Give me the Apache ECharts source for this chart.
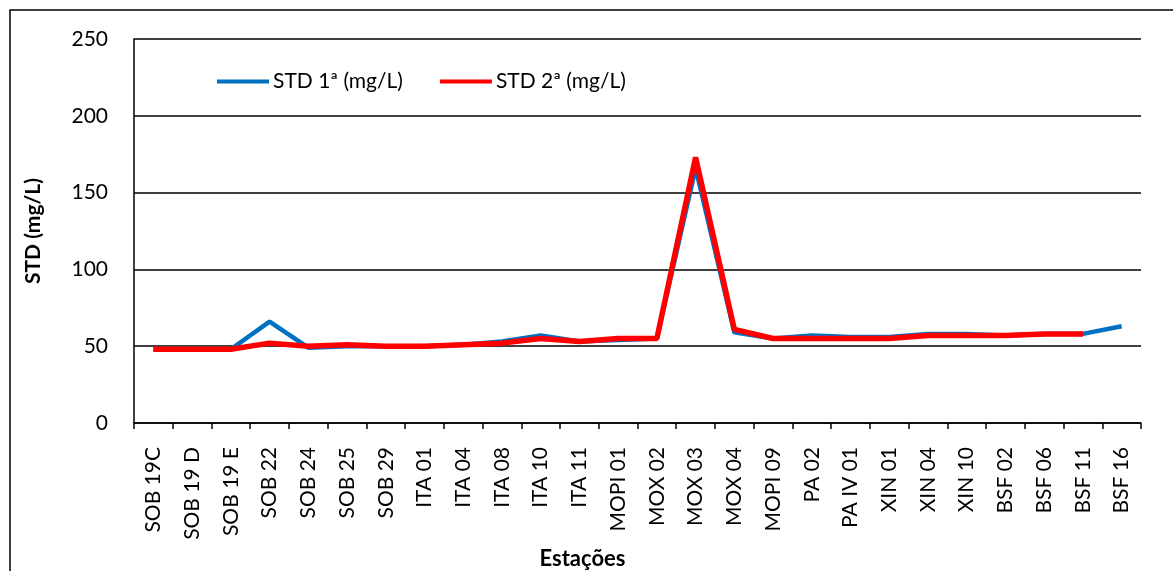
<!DOCTYPE html>
<html>
<head>
<meta charset="utf-8">
<script src="https://cdn.jsdelivr.net/npm/echarts@6/dist/echarts.min.js"></script>
<style>html,body{margin:0;padding:0;background:#fff}#c{width:1173px;height:571px}</style>
</head>
<body>
<div id="c"></div>
<script>
const categories = ['SOB 19C','SOB 19 D','SOB 19 E','SOB 22','SOB 24','SOB 25','SOB 29','ITA 01','ITA 04','ITA 08','ITA 10','ITA 11','MOPI 01','MOX 02','MOX 03','MOX 04','MOPI 09','PA 02','PA IV 01','XIN 01','XIN 04','XIN 10','BSF 02','BSF 06','BSF 11','BSF 16'];
const std1 = [48,48,48,66,49,50,50,50,51,53,57,53,54,55,166,59,55,57,56,56,58,58,57,58,58,63];
const std2 = [48,48,48,52,50,51,50,50,51,52,55,53,55,55,173,61,55,55,55,55,57,57,57,58,58,null];
const yTicks = [0,50,100,150,200,250];

const font = 'Lato, "Open Sans", sans-serif';
const chart = echarts.init(document.getElementById('c'));
chart.setOption({
  animation: false,
  backgroundColor: '#fff',
  graphic: [{
    type: 'rect', shape: {x: 10, y: 10, width: 1200, height: 600},
    style: {fill: 'none', stroke: '#000', lineWidth: 1.5}, silent: true
  }],
  grid: {left: 134, top: 39, right: 32, bottom: 148, outerBoundsMode: 'none', containLabel: false},
  legend: {
    top: 66, left: 212, itemGap: 37, itemWidth: 52, itemHeight: 4,
    icon: 'rect',
    textStyle: {fontFamily: font, fontSize: 21, color: '#000', padding: [0,0,0,-1]},
    data: ['STD 1ª (mg/L)', 'STD 2ª (mg/L)']
  },
  xAxis: {
    type: 'category', data: categories, boundaryGap: true,
    name: 'Estações', nameLocation: 'middle', nameGap: 121,
    nameTextStyle: {fontFamily: font, fontSize: 22, fontWeight: 'bold', color: '#000', padding: [0, 110, 0, 0]},
    axisLine: {lineStyle: {color: '#000', width: 1.5}},
    axisTick: {show: true, alignWithLabel: false, length: 6, lineStyle: {color: '#000', width: 1.5}},
    axisLabel: {rotate: 90, interval: 0, margin: 24, fontFamily: font, fontSize: 21, color: '#000'}
  },
  yAxis: {
    type: 'value', min: 0, max: 250, interval: 50,
    name: 'STD (mg/L)', nameLocation: 'middle', nameGap: 90, nameRotate: 90,
    nameTextStyle: {fontFamily: font, fontSize: 21, fontWeight: 'bold', color: '#000'},
    axisLine: {show: true, lineStyle: {color: '#000', width: 1.5}},
    axisTick: {show: false},
    axisLabel: {margin: 26, fontFamily: font, fontSize: 21, color: '#000',
      formatter: v => yTicks.includes(v) ? String(v) : ''},
    splitLine: {show: true, lineStyle: {color: '#000', width: 1.5}}
  },
  series: [
    {name: 'STD 1ª (mg/L)', type: 'line', data: std1, symbol: 'none',
     itemStyle: {color: '#0070C0'}, lineStyle: {color: '#0070C0', width: 4.5}},
    {name: 'STD 2ª (mg/L)', type: 'line', data: std2, symbol: 'none',
     itemStyle: {color: '#FF0000'}, lineStyle: {color: '#FF0000', width: 5.5}}
  ]
});
</script>
</body>
</html>
